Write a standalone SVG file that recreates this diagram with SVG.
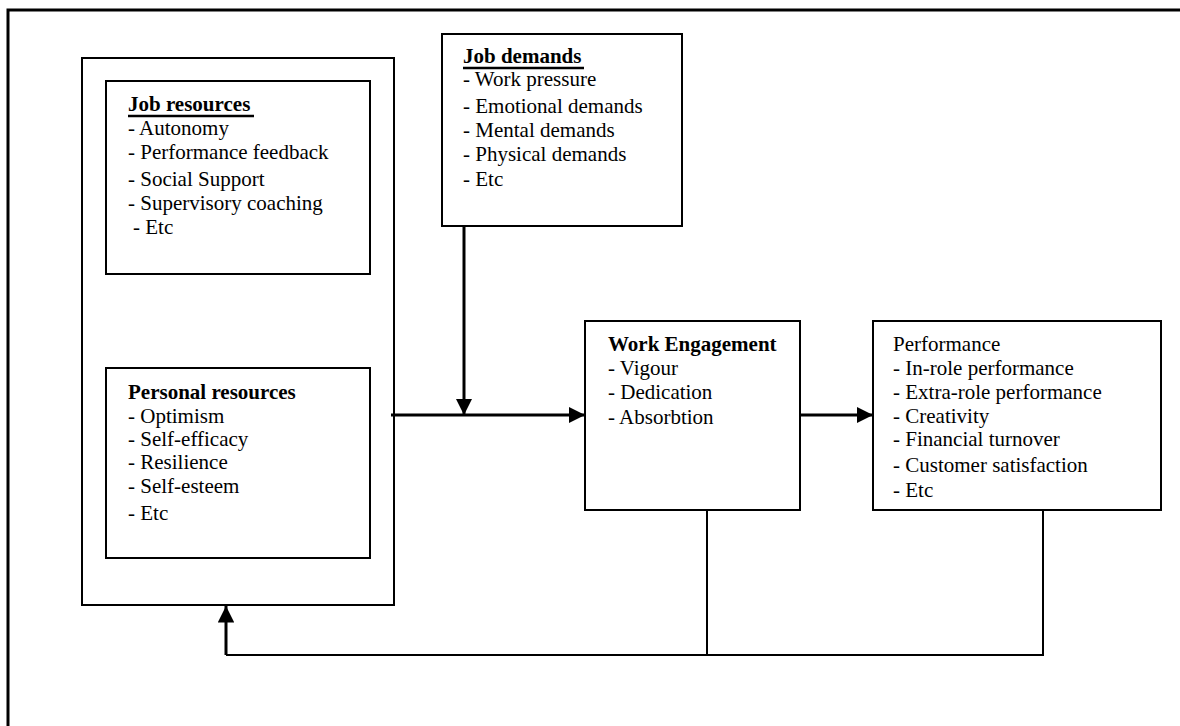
<svg xmlns="http://www.w3.org/2000/svg" width="1180" height="726" viewBox="0 0 1180 726">
<defs>
<style>
.box{fill:#fff;stroke:#000;stroke-width:2}
.t{font-family:"Liberation Serif","Times New Roman",serif;font-size:21px;fill:#000}
.b{font-weight:bold}
.ln{fill:none;stroke:#000;stroke-width:2}
.ar{fill:none;stroke:#000;stroke-width:3}
</style>
<marker id="ah" viewBox="0 0 10 10" refX="10" refY="5" markerWidth="5.5" markerHeight="5.5" orient="auto" markerUnits="strokeWidth">
<path d="M0,0 L10,5 L0,10 z" fill="#000"/>
</marker>
</defs>
<rect width="1180" height="726" fill="#fff"/>
<rect x="8" y="10" width="1200" height="800" fill="none" stroke="#000" stroke-width="3"/>

<g id="resources">
<rect class="box" x="82" y="58" width="312" height="547"/>
</g>

<g id="job-resources">
<rect class="box" x="106" y="81" width="264" height="193"/>
<text class="t b" x="128" y="111">Job resources</text>
<line x1="128" y1="116" x2="254" y2="116" stroke="#000" stroke-width="2.5"/>
<text class="t" x="128" y="135">- Autonomy</text>
<text class="t" x="128" y="159">- Performance feedback</text>
<text class="t" x="128" y="186">- Social Support</text>
<text class="t" x="128" y="210">- Supervisory coaching</text>
<text class="t" x="133" y="234">- Etc</text>
</g>

<g id="personal-resources">
<rect class="box" x="106" y="368" width="264" height="190"/>
<text class="t b" x="128" y="399">Personal resources</text>
<text class="t" x="128" y="423">- Optimism</text>
<text class="t" x="128" y="446">- Self-efficacy</text>
<text class="t" x="128" y="469">- Resilience</text>
<text class="t" x="128" y="493">- Self-esteem</text>
<text class="t" x="128" y="520">- Etc</text>
</g>

<g id="job-demands">
<rect class="box" x="442" y="34" width="240" height="192" stroke-width="2.5"/>
<text class="t b" x="463" y="63">Job demands</text>
<line x1="463" y1="68" x2="584" y2="68" stroke="#000" stroke-width="2.5"/>
<text class="t" x="463" y="86">- Work pressure</text>
<text class="t" x="463" y="113">- Emotional demands</text>
<text class="t" x="463" y="137">- Mental demands</text>
<text class="t" x="463" y="161">- Physical demands</text>
<text class="t" x="463" y="186">- Etc</text>
</g>

<g id="work-engagement">
<rect class="box" x="585" y="321" width="215" height="189"/>
<text class="t b" x="608" y="351">Work Engagement</text>
<text class="t" x="608" y="375">- Vigour</text>
<text class="t" x="608" y="399">- Dedication</text>
<text class="t" x="608" y="424">- Absorbtion</text>
</g>

<g id="performance">
<rect class="box" x="873" y="321" width="288" height="189"/>
<text class="t" x="893" y="351">Performance</text>
<text class="t" x="893" y="375">- In-role performance</text>
<text class="t" x="893" y="399">- Extra-role performance</text>
<text class="t" x="893" y="423">- Creativity</text>
<text class="t" x="893" y="446">- Financial turnover</text>
<text class="t" x="893" y="472">- Customer satisfaction</text>
<text class="t" x="893" y="497">- Etc</text>
</g>

<g id="connectors">
<line class="ar" x1="391" y1="415" x2="585" y2="415" marker-end="url(#ah)"/>
<line class="ar" x1="464" y1="226" x2="464" y2="415" marker-end="url(#ah)"/>
<line class="ar" x1="800" y1="415" x2="873" y2="415" marker-end="url(#ah)"/>
<polyline class="ln" points="707,510 707,655"/>
<polyline class="ln" points="1043,510 1043,655 226,655"/>
<line class="ar" x1="226" y1="655" x2="226" y2="606" marker-end="url(#ah)"/>
</g>
</svg>
